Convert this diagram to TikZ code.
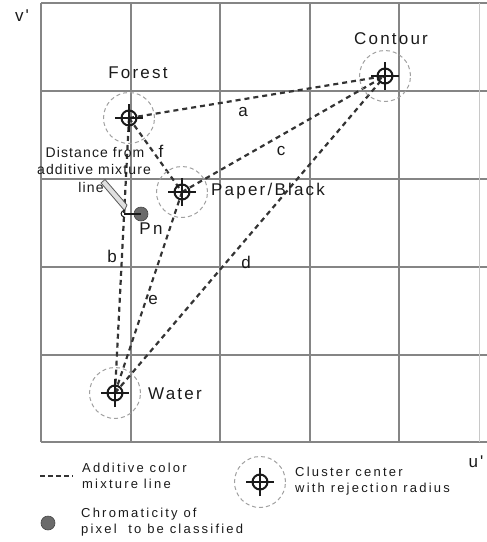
\documentclass[tikz,border=0pt]{standalone}
\usepackage{fontspec}
\setmainfont{Liberation Sans}
\newfontfamily\lblfont[LetterSpace=13]{Liberation Sans}
\newfontfamily\legfont[LetterSpace=17]{Liberation Sans}
\newfontfamily\notefont[LetterSpace=8]{Liberation Sans}
\definecolor{ink}{HTML}{1A1A1A}
\definecolor{gridc}{HTML}{858585}
\definecolor{ringc}{HTML}{A0A0A0}
\definecolor{mixc}{HTML}{333333}
\tikzset{
  gridline/.style={draw=gridc, line width=1.1pt},
  mixline/.style={draw=mixc, line width=2.2pt, dash pattern=on 5pt off 4pt},
  cluster/.style={circle, minimum size=51pt, inner sep=0pt, draw=ringc, line width=1pt,
    dash pattern=on 4pt off 3pt,
    path picture={
      \draw[ink, line width=2pt, solid] (path picture bounding box.center) circle (7.5pt);
      \draw[ink, line width=2pt, solid] ([xshift=-14pt]path picture bounding box.center) -- ([xshift=14pt]path picture bounding box.center);
      \draw[ink, line width=2pt, solid] ([yshift=-14pt]path picture bounding box.center) -- ([yshift=14pt]path picture bounding box.center);
    }},
  lab/.style={inner sep=0pt, text=ink, font=\lblfont\fontsize{17}{20}\selectfont},
  small/.style={inner sep=0pt, text=ink, font=\lblfont\fontsize{17}{20}\selectfont},
  note/.style={inner sep=0pt, text=ink, anchor=base, font=\notefont\fontsize{14}{17}\selectfont},
  leg/.style={inner sep=0pt, text=ink, anchor=base west, font=\legfont\fontsize{13}{16}\selectfont},
  pixel/.style={circle, minimum size=14pt, inner sep=0pt, fill=black!58, draw=black!72, line width=0.6pt},
}
\begin{document}
\begin{tikzpicture}[x=1pt,y=-1pt]
\useasboundingbox (0,0) rectangle (487,542);
% grid
\foreach \x in {41,131,220,310,399} \draw[gridline] (\x,3) -- (\x,442);
\foreach \y in {3,91,179,267,355,442} \draw[gridline] (41,\y) -- (487,\y);
\draw[draw=gridc!45, line width=0.8pt] (479,3) -- (479,442);

% cluster centres
\coordinate (forest) at (129,118);
\coordinate (contour) at (385,76);
\coordinate (paper) at (182,192);
\coordinate (water) at (115,393);

% mixture lines
\draw[mixline] (forest) -- (contour);
\draw[mixline] (paper) -- (contour);
\draw[mixline] (water) -- (contour);
\draw[mixline] (forest) -- (water);
\draw[mixline] (paper) -- (water);
\draw[mixline] (forest) -- (paper);

\node[cluster] (forestC) at (forest) {};
\node[cluster] (contourC) at (contour) {};
\node[cluster] (paperC) at (paper) {};
\node[cluster] (waterC) at (water) {};

% cluster labels
\node[lab] (forestL) at (138,73) {Forest};
\node[lab] (contourL) at (391,39) {Contour};
\node[lab, anchor=west] (paperL) at (211,191) {Paper/Black};
\node[lab, anchor=west] (waterL) at (148,394) {Water};

% line letters
\node[small] (la) at (243,112) {a};
\node[small] (lb) at (112,256) {b};
\node[small] (lc) at (281,151) {c};
\node[small] (ld) at (246,262) {d};
\node[small] (le) at (153,300) {e};
\node[small] (lf) at (161,151) {f};

% pixel and distance
\coordinate (foot) at (124,214);
\node[pixel] (pn) at (141,214) {};
\draw[ink, line width=2.2pt] (foot) -- (pn.center);
\node[lab] (pnL) at (151,229) {Pn};
\draw[draw=black!65, fill=black!12, line width=0.8pt, line join=round]
  (101,183) -- (105,179.5) -- (127,205) -- (124.5,210.5) -- cycle;
\draw[ink, line width=1pt] (125,210) .. controls (120,211) and (120,216) .. (124,217);

\node[note] (d1) at (95,157) {Distance from};
\node[note] (d2) at (94,174) {additive mixture};
\node[note] (d3) at (91,192) {line};

% axes
\node[lab] (vax) at (22,16) {v'};
\node[lab] (uax) at (476,462) {u'};

% legend
\coordinate (legA) at (40,476);
\coordinate (legB) at (73,476);
\draw[mixline, line width=1.8pt, dash pattern=on 4.5pt off 3.5pt] (legA) -- (legB);
\node[leg] (lg1) at (82,472) {Additive color};
\node[leg] (lg2) at (82,488) {mixture line};
\node[cluster] (legC) at (260,482) {};
\node[leg] (lg3) at (295,476) {Cluster center};
\node[leg] (lg4) at (295,492) {with rejection radius};
\node[pixel] (legP) at (48,523) {};
\node[leg] (lg5) at (81,517) {Chromaticity of};
\node[leg] (lg6) at (81,533) {pixel\ \ to be classified};
\end{tikzpicture}
\end{document}
